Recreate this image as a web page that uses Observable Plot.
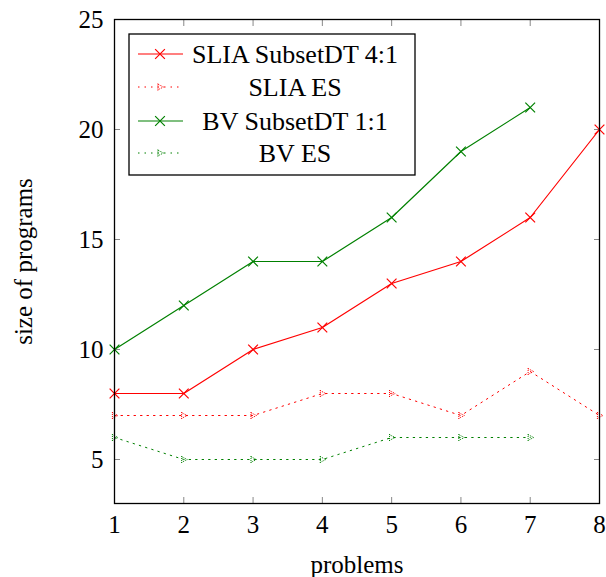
<!DOCTYPE html>
<html>
<head>
<meta charset="utf-8">
<script src="https://cdn.jsdelivr.net/npm/d3@7"></script>
<script src="https://cdn.jsdelivr.net/npm/@observablehq/plot@0.6"></script>
<style>
  html, body { margin: 0; padding: 0; background: white; }
  #chart { position: relative; width: 606px; height: 577px; }
</style>
</head>
<body>
<div id="chart"></div>
<script>
const problems = [1, 2, 3, 4, 5, 6, 7, 8];
const sliaSubsetDT = [8, 8, 10, 11, 13, 14, 16, 20];
const sliaES = [7, 7, 7, 8, 8, 7, 9, 7];
const bvProblems = [1, 2, 3, 4, 5, 6, 7];
const bvSubsetDT = [10, 12, 14, 14, 16, 19, 21];
const bvES = [6, 5, 5, 5, 6, 6, 6];
const xTicks = [1, 2, 3, 4, 5, 6, 7, 8];
const yTicks = [5, 10, 15, 20, 25];
const seriesNames = ["SLIA SubsetDT 4:1", "SLIA ES", "BV SubsetDT 1:1", "BV ES"];
const xLabel = "problems";
const yLabel = "size of programs";

const RED = "#ff0000", GREEN = "#008000";
const DOT = "1.5 5";

const rows = (xs, ys, name) => xs.map((x, i) => ({x, y: ys[i], name}));
const sSub = rows(problems, sliaSubsetDT, seriesNames[0]);
const sES = rows(problems, sliaES, seriesNames[1]);
const bSub = rows(bvProblems, bvSubsetDT, seriesNames[2]);
const bES = rows(bvProblems, bvES, seriesNames[3]);

// "|>" marker: bar + right-pointing triangle
const barTriangle = {
  draw(ctx, size) {
    const r = Math.sqrt(size / Math.PI);
    ctx.moveTo(-r * 0.6, -r); ctx.lineTo(-r * 0.6, r);
    ctx.moveTo(-r * 0.6, -r * 0.8); ctx.lineTo(r, 0); ctx.lineTo(-r * 0.6, r * 0.8);
  }
};

const font = "'Liberation Serif', 'Times New Roman', serif";

const chart = Plot.plot({
  width: 606,
  height: 577,
  marginLeft: 114,
  marginRight: 7,
  marginTop: 19,
  marginBottom: 74,
  style: {fontFamily: font, fontSize: "25px", background: "white", color: "black"},
  x: {domain: [1, 8]},
  y: {domain: [3, 25]},
  marks: [
    Plot.axisX(xTicks, {anchor: "bottom", tickSize: -6, tickPadding: 18, stroke: "#888", label: null}),
    Plot.axisX(xTicks, {anchor: "top", tickSize: -6, stroke: "#888", tickFormat: () => "", label: null}),
    Plot.axisY(yTicks, {anchor: "left", tickSize: -6, tickPadding: 17, stroke: "#888", label: null}),
    Plot.axisY(yTicks, {anchor: "right", tickSize: -6, stroke: "#888", tickFormat: () => "", label: null}),
    Plot.text([xLabel], {text: d => d, frameAnchor: "bottom", dy: 61, lineAnchor: "middle", textAnchor: "middle", fontSize: 25, fill: "black"}),
    Plot.text([yLabel], {text: d => d, frameAnchor: "left", dx: -91, rotate: -90, lineAnchor: "middle", textAnchor: "middle", fontSize: 25, fill: "black"}),
    Plot.line(sES, {x: "x", y: "y", stroke: RED, strokeWidth: 1, strokeDasharray: DOT}),
    Plot.dot(sES, {x: "x", y: "y", stroke: RED, symbol: barTriangle, r: 3.5, strokeWidth: 1, strokeDasharray: "1 1"}),
    Plot.line(bES, {x: "x", y: "y", stroke: GREEN, strokeWidth: 1, strokeDasharray: DOT}),
    Plot.dot(bES, {x: "x", y: "y", stroke: GREEN, symbol: barTriangle, r: 3.5, strokeWidth: 1, strokeDasharray: "1 1"}),
    Plot.line(sSub, {x: "x", y: "y", stroke: RED, strokeWidth: 1.2}),
    Plot.dot(sSub, {x: "x", y: "y", stroke: RED, symbol: "times", r: 4.5, strokeWidth: 1.2}),
    Plot.line(bSub, {x: "x", y: "y", stroke: GREEN, strokeWidth: 1.2}),
    Plot.dot(bSub, {x: "x", y: "y", stroke: GREEN, symbol: "times", r: 4.5, strokeWidth: 1.2}),
    Plot.frame({stroke: "black", strokeWidth: 1.3})
  ]
});
document.getElementById("chart").appendChild(chart);

// Legend drawn inside the SVG
const svg = d3.select(chart);
const lg = svg.append("g").attr("class", "legend");
const box = {x: 129, y: 34, w: 286, h: 141};
lg.append("rect").attr("x", box.x).attr("y", box.y).attr("width", box.w).attr("height", box.h)
  .attr("fill", "white").attr("stroke", "black").attr("stroke-width", 1.3);
const legendItems = [
  {name: seriesNames[0], color: RED, dotted: false},
  {name: seriesNames[1], color: RED, dotted: true},
  {name: seriesNames[2], color: GREEN, dotted: false},
  {name: seriesNames[3], color: GREEN, dotted: true}
];
const rowY = [54, 87, 121, 153];
legendItems.forEach((it, i) => {
  const y = rowY[i];
  lg.append("line").attr("x1", 138).attr("x2", 183).attr("y1", y).attr("y2", y)
    .attr("stroke", it.color).attr("stroke-width", it.dotted ? 1 : 1.2)
    .attr("stroke-dasharray", it.dotted ? DOT : null);
  const p = d3.path();
  if (it.dotted) {
    barTriangle.draw(p, Math.PI * 3.5 * 3.5);
    lg.append("path").attr("d", p.toString()).attr("transform", `translate(160,${y})`)
      .attr("fill", "none").attr("stroke", it.color).attr("stroke-dasharray", "1 1");
  } else {
    lg.append("path").attr("d", d3.symbol(d3.symbolTimes, Math.PI * 4.5 * 4.5)())
      .attr("transform", `translate(160,${y})`).attr("fill", "none")
      .attr("stroke", it.color).attr("stroke-width", 1.2);
  }
  lg.append("text").attr("x", 295).attr("y", y).attr("dy", "0.35em")
    .attr("text-anchor", "middle").attr("font-family", font).attr("font-size", 26)
    .attr("fill", "black").text(it.name);
});
</script>
</body>
</html>
